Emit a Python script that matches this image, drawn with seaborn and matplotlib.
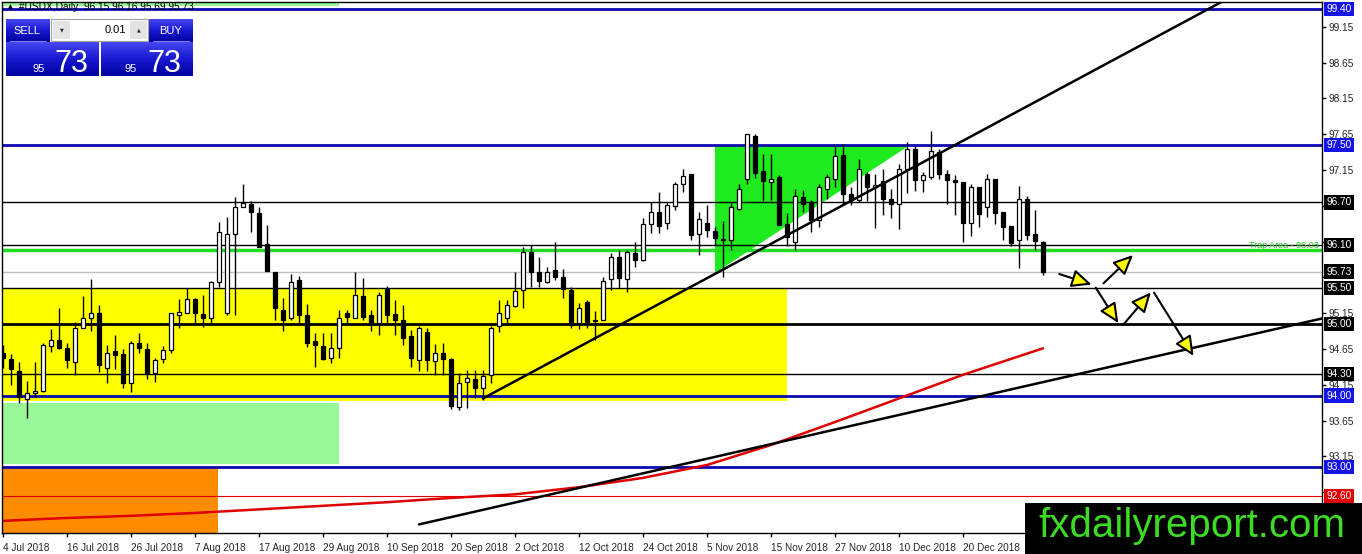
import numpy as np
import pandas as pd
import matplotlib
matplotlib.use("Agg")
import matplotlib.pyplot as plt
import seaborn as sns
from matplotlib.patches import Rectangle, Polygon, FancyArrowPatch
from matplotlib.colors import LinearSegmentedColormap

# =========================
# DATA (USDX daily)
# =========================

opens = [94.59, 94.51, 94.34, 93.95, 94.04, 94.06, 94.69, 94.78, 94.66, 94.47,
         94.95, 95.08, 95.15, 94.39, 94.62, 94.58, 94.17, 94.73, 94.65, 94.32,
         94.51, 94.64, 95.13, 95.16, 95.35, 95.14, 95.09, 95.58, 95.16, 96.26,
         96.63, 96.68, 96.55, 96.12, 95.72, 95.20, 95.08, 95.61, 95.13, 94.76,
         94.69, 94.53, 94.67, 95.16, 95.09, 95.39, 95.12, 95.02, 95.49, 95.14,
         95.06, 94.83, 94.49, 94.89, 94.48, 94.60, 94.51, 93.84, 94.19, 94.23,
         94.11, 94.29, 94.97, 95.08, 95.25, 95.47, 96.00, 95.72, 95.58, 95.75,
         95.66, 95.48, 95.01, 95.31, 95.05, 95.06, 95.63, 95.93, 95.63, 95.99,
         95.89, 96.39, 96.56, 96.41, 96.65, 96.96, 97.09, 96.26, 96.41, 96.30,
         96.18, 96.18, 96.61, 97.02, 97.63, 97.14, 96.98, 97.06, 96.40, 96.15,
         96.78, 96.70, 96.45, 96.89, 97.03, 97.36, 96.82, 96.73, 97.09, 96.91,
         97.00, 96.74, 96.68, 97.16, 97.44, 97.01, 97.06, 97.40, 97.09, 97.01,
         96.99, 96.41, 96.92, 96.63, 97.02, 96.56, 96.37, 96.18, 96.74, 96.26,
         96.15]
highs = [94.70, 94.58, 94.47, 94.21, 94.47, 94.74, 94.93, 95.23, 94.74, 95.03,
         95.39, 95.63, 95.26, 94.70, 94.84, 94.65, 94.76, 94.88, 94.74, 94.53,
         94.69, 95.16, 95.35, 95.50, 95.36, 95.40, 95.60, 96.42, 96.49, 96.77,
         96.95, 96.72, 96.63, 96.38, 95.73, 95.36, 95.70, 95.67, 95.28, 94.88,
         94.88, 94.88, 95.20, 95.20, 95.72, 95.64, 95.19, 95.44, 95.53, 95.33,
         95.26, 94.91, 94.97, 94.95, 94.72, 94.73, 94.53, 94.31, 94.36, 94.36,
         94.36, 94.97, 95.34, 95.34, 95.72, 96.08, 96.10, 95.93, 95.79, 96.15,
         95.77, 95.51, 95.30, 95.34, 95.18, 95.65, 95.99, 96.03, 96.03, 96.14,
         96.48, 96.70, 96.84, 96.71, 96.98, 97.17, 97.10, 96.56, 96.66, 96.36,
         96.44, 96.71, 96.96, 97.66, 97.65, 97.38, 97.38, 97.08, 96.55, 96.89,
         96.87, 96.73, 96.95, 97.09, 97.48, 97.51, 96.92, 97.31, 97.13, 97.10,
         97.17, 96.89, 97.23, 97.54, 97.49, 97.13, 97.70, 97.44, 97.15, 97.08,
         96.99, 96.96, 96.92, 97.10, 97.02, 96.56, 96.37, 96.93, 96.79, 96.59,
         96.16]
lows = [94.38, 94.15, 93.90, 93.68, 93.98, 94.05, 94.61, 94.65, 94.39, 94.29,
        94.94, 94.90, 94.33, 94.18, 94.37, 94.11, 94.05, 94.60, 94.23, 94.19,
        94.46, 94.59, 94.95, 95.16, 95.00, 94.96, 95.00, 95.51, 95.12, 95.12,
        96.63, 96.29, 96.07, 95.74, 95.06, 94.90, 95.06, 95.00, 94.68, 94.40,
        94.50, 94.45, 94.53, 95.00, 95.09, 95.05, 94.90, 94.84, 95.00, 94.84,
        94.70, 94.40, 94.35, 94.35, 94.29, 94.29, 93.81, 93.80, 93.82, 93.97,
        93.94, 94.17, 94.89, 94.98, 95.24, 95.23, 95.51, 95.51, 95.57, 95.62,
        95.36, 94.95, 94.93, 94.94, 94.78, 95.05, 95.47, 95.50, 95.45, 95.79,
        95.88, 96.27, 96.27, 96.33, 96.59, 96.85, 96.17, 95.97, 96.22, 96.11,
        95.65, 96.03, 96.59, 96.95, 97.04, 96.72, 96.73, 96.38, 96.09, 96.03,
        96.57, 96.29, 96.36, 96.75, 96.92, 96.68, 96.66, 96.70, 96.72, 96.34,
        96.52, 96.48, 96.33, 96.83, 96.86, 96.85, 97.03, 97.02, 96.67, 96.52,
        96.14, 96.23, 96.36, 96.50, 96.39, 96.17, 96.09, 95.78, 96.17, 96.03,
        95.69]
closes = [94.52, 94.37, 93.98, 94.04, 94.07, 94.70, 94.78, 94.67, 94.49, 94.95,
          95.09, 95.16, 94.42, 94.60, 94.56, 94.18, 94.74, 94.66, 94.32, 94.49,
          94.64, 95.15, 95.17, 95.35, 95.15, 95.09, 95.58, 96.28, 96.26, 96.63,
          96.69, 96.56, 96.07, 95.74, 95.22, 95.05, 95.59, 95.12, 94.74, 94.70,
          94.51, 94.67, 95.09, 95.10, 95.41, 95.10, 95.00, 95.40, 95.12, 95.05,
          94.81, 94.52, 94.95, 94.50, 94.59, 94.51, 93.86, 94.17, 94.24, 94.11,
          94.27, 94.95, 95.16, 95.27, 95.46, 96.00, 95.73, 95.60, 95.73, 95.65,
          95.49, 94.98, 95.23, 95.03, 95.04, 95.60, 95.94, 95.64, 96.00, 95.89,
          96.40, 96.56, 96.37, 96.66, 96.95, 97.07, 96.25, 96.46, 96.31, 96.20,
          96.17, 96.63, 96.88, 97.65, 97.11, 97.00, 97.03, 96.38, 96.21, 96.79,
          96.68, 96.45, 96.91, 97.06, 97.34, 96.82, 96.73, 97.17, 96.92, 96.94,
          96.74, 96.68, 97.17, 97.44, 97.01, 97.08, 97.42, 97.10, 97.01, 96.99,
          96.41, 96.92, 96.53, 97.02, 96.55, 96.35, 96.13, 96.74, 96.25, 96.16,
          95.73]

date_labels = ["4 Jul 2018", "16 Jul 2018", "26 Jul 2018", "7 Aug 2018", "17 Aug 2018",
               "29 Aug 2018", "10 Sep 2018", "20 Sep 2018", "2 Oct 2018", "12 Oct 2018",
               "24 Oct 2018", "5 Nov 2018", "15 Nov 2018", "27 Nov 2018", "10 Dec 2018",
               "20 Dec 2018"]

# moving average (red) sampled along the line
ma_bars = [0, 8, 16, 24, 32, 40, 48, 56, 64, 72, 80, 88, 96, 104, 112, 120, 130]
ma_vals = [92.25, 92.29, 92.32, 92.36, 92.41, 92.46, 92.51, 92.57, 92.62, 92.72,
           92.85, 93.03, 93.31, 93.63, 93.96, 94.29, 94.66]

# trendlines (bar index, price)
trend_up_bars = [60, 165]
trend_up_vals = [93.96, 100.26]
trend_low_bars = [52, 165]
trend_low_vals = [92.20, 95.08]

# horizontal levels
blue_levels = [99.40, 97.50, 94.00, 93.00]
black_levels = [96.70, 96.10, 95.50, 94.30]
bold_level = 95.00
trap_level = 96.03
price_now = 95.73
red_level = 92.60

# zones (bar from, bar to, price low, price high)
yellow_zone = (-0.2, 98.0, 93.92, 95.50)
pale_zone = (-0.2, 42.0, 93.04, 93.89)
pale_top = (-0.2, 42.0, 99.44, 99.60)
orange_zone = (-0.2, 26.9, 91.90, 93.00)
triangle_bars = [89.0, 89.0, 113.4]
triangle_vals = [95.71, 97.50, 97.50]

# projected path arrows (bar, price) -> (bar, price)
arrows = [((131.7, 95.71), (136.4, 95.54)),
          ((137.3, 95.54), (141.5, 95.99)),
          ((136.4, 95.54), (139.6, 94.98)),
          ((139.8, 94.96), (143.7, 95.47)),
          ((143.7, 95.47), (149.0, 94.52))]

# right price scale (labels sitting under a level box are left blank, as in the source)
tick_vals = [92.65, 93.15, 93.65, 94.15, 94.65, 95.15, 95.65, 96.15, 96.65,
             97.15, 97.65, 98.15, 98.65, 99.15]
tick_hidden = [92.65, 95.65, 96.15, 96.65]
box_blue = [99.40, 97.50, 94.00, 93.00]
box_black = [96.70, 96.10, 95.73, 95.50, 95.00, 94.30]
box_red = [92.60]

# =========================
# FIGURE
# =========================

sns.set_style("white")
plt.rcParams["font.family"] = ["Liberation Sans", "DejaVu Sans"]

fig = plt.figure(figsize=(13.62, 5.54), dpi=100)
ax = fig.add_axes([2 / 1362, 21 / 554, 1320 / 1362, 531 / 554])

df = pd.DataFrame({"open": opens, "high": highs, "low": lows, "close": closes})
df["bar"] = np.arange(len(df))

# zones
for x0, x1, y0, y1, col in [(*yellow_zone, "#FFFF00"), (*pale_zone, "#98F898"),
                            (*pale_top, "#98F898"), (*orange_zone, "#FF8C00")]:
    ax.add_patch(Rectangle((x0, y0), x1 - x0, y1 - y0, facecolor=col,
                           edgecolor="none", zorder=1))
ax.add_patch(Polygon(list(zip(triangle_bars, triangle_vals)), closed=True,
                     facecolor="#1EEB1E", edgecolor="none", zorder=1))

# horizontal levels
for v in blue_levels:
    ax.axhline(v, color="#0A0AB0", lw=2, zorder=2)
for v in black_levels:
    ax.axhline(v, color="black", lw=1, zorder=2)
ax.axhline(bold_level, color="black", lw=2, zorder=2)
ax.axhline(trap_level, color="#22DD22", lw=2.5, zorder=2)
ax.axhline(price_now, color="#C0C0C0", lw=1, zorder=2)
ax.axhline(red_level, color="#E00000", lw=0.8, zorder=2)

# moving average + trendlines
sns.lineplot(x=ma_bars, y=ma_vals, color="#E00000", lw=1.8, ax=ax, zorder=2)
ax.plot(trend_up_bars, trend_up_vals, color="black", lw=1.8, zorder=5)
ax.plot(trend_low_bars, trend_low_vals, color="black", lw=1.8, zorder=5)

# candles
up = df["close"] >= df["open"]
body_lo = df[["open", "close"]].min(axis=1)
body_h = (df["close"] - df["open"]).abs().clip(lower=0.012)
ax.vlines(df["bar"], df["low"], df["high"], color="black", lw=1, zorder=3)
ax.bar(df["bar"], body_h, bottom=body_lo, width=0.62,
       color=np.where(up, "white", "black"), edgecolor="black", linewidth=0.9, zorder=4)

# arrows
for (x0, y0), (x1, y1) in arrows:
    ax.add_patch(FancyArrowPatch((x0, y0), (x1, y1),
                                 arrowstyle="-|>,head_length=12,head_width=5.5",
                                 facecolor="#FFFF00", edgecolor="black",
                                 lw=1.5, mutation_scale=1, zorder=6))

ax.text(164.5, 96.09, "Trap Area - 96.03", color="#22CC22", fontsize=6.5,
        ha="right", va="center", zorder=6)

# axes
ax.set_xlim(-0.125, 164.875)
ax.set_ylim(92.08, 99.498)
ax.yaxis.tick_right()
ax.set_yticks(tick_vals)
ax.set_yticklabels(["" if v in tick_hidden else f"{v:.2f}" for v in tick_vals], fontsize=7.3)
ax.set_xticks(np.arange(len(date_labels)) * 8)
ax.set_xticklabels(date_labels, fontsize=7.2, ha="left")
ax.tick_params(axis="both", direction="out", length=3, width=1, color="black",
               right=True, bottom=True, pad=2)
ax.tick_params(axis="x", pad=4)
for s in ax.spines.values():
    s.set_color("black")
    s.set_linewidth(1)
ax.set_xlabel("")
ax.set_ylabel("")

for vals, col in [(box_blue, "#1414E6"), (box_black, "black"), (box_red, "#E00000")]:
    for v in vals:
        ax.annotate(f"{v:.2f}", xy=(1, v), xycoords=("axes fraction", "data"),
                    xytext=(3, 0), textcoords="offset points", ha="left", va="center",
                    fontsize=7.3, color="white", zorder=10, annotation_clip=False,
                    bbox=dict(boxstyle="square,pad=0.22", fc=col, ec="none"))

# =========================
# OVERLAY (title, trade panel, watermark)
# =========================

ov = fig.add_axes([0, 0, 1, 1], zorder=20)
ov.patch.set_alpha(0)
ov.axis("off")

ov.text(8, 7, "\u25b2", fontsize=4.5, color="black", va="center", ha="left",
        family=["DejaVu Sans"])
ov.text(19, 7, "#USDX,Daily  96.15 96.16 95.69 95.73", fontsize=7.3,
        color="black", va="center", ha="left")

blue_cmap = LinearSegmentedColormap.from_list("btn", ["#4646F2", "#1818D0", "#0000A0"])
grad = np.linspace(0, 1, 64).reshape(-1, 1)


def button(x0, y0, x1, y1):
    ov.imshow(grad, extent=(x0, x1, y1, y0), cmap=blue_cmap, aspect="auto",
              origin="upper", zorder=2)


button(6, 19, 50, 42)
button(149, 19, 193, 42)
button(6, 42, 99, 76)
button(101, 42, 193, 76)
ov.plot([10, 46], [41, 41], color="#8080F0", lw=0.8, zorder=3)
ov.plot([153, 189], [41, 41], color="#8080F0", lw=0.8, zorder=3)

ov.add_patch(Rectangle((51, 19), 97, 22, facecolor="white", edgecolor="#A0A0A0",
                       lw=0.8, zorder=2))
ov.add_patch(Rectangle((53, 21), 17, 18, facecolor="#E4E4E4", edgecolor="none", zorder=3))
ov.add_patch(Rectangle((130, 21), 17, 18, facecolor="#E4E4E4", edgecolor="none", zorder=3))
ov.text(61.5, 30, "\u25bc", fontsize=3.5, ha="center", va="center", family=["DejaVu Sans"], zorder=4)
ov.text(138.5, 30, "\u25b2", fontsize=3.5, ha="center", va="center", family=["DejaVu Sans"], zorder=4)
ov.text(126, 30, "0.01", fontsize=8, ha="right", va="center", color="black", zorder=4)

ov.text(27, 30.5, "SELL", fontsize=8, color="white", ha="center", va="center", zorder=4)
ov.text(171, 30.5, "BUY", fontsize=8, color="white", ha="center", va="center", zorder=4)
for x95, x73 in [(39, 71), (131, 164)]:
    ov.text(x95, 72, "95", fontsize=8, color="white", ha="center", va="baseline", zorder=4)
    ov.text(x73, 72, "73", fontsize=22, color="white", ha="center", va="baseline", zorder=4)

ov.add_patch(Rectangle((1025, 503), 337, 51, facecolor="black", edgecolor="none", zorder=5))
ov.text(1192, 537, "fxdailyreport.com", fontsize=29, color="#3CDC24",
        ha="center", va="baseline", zorder=6)

ov.set_xlim(0, 1362)
ov.set_ylim(554, 0)

fig.savefig("out.png", dpi=100)
